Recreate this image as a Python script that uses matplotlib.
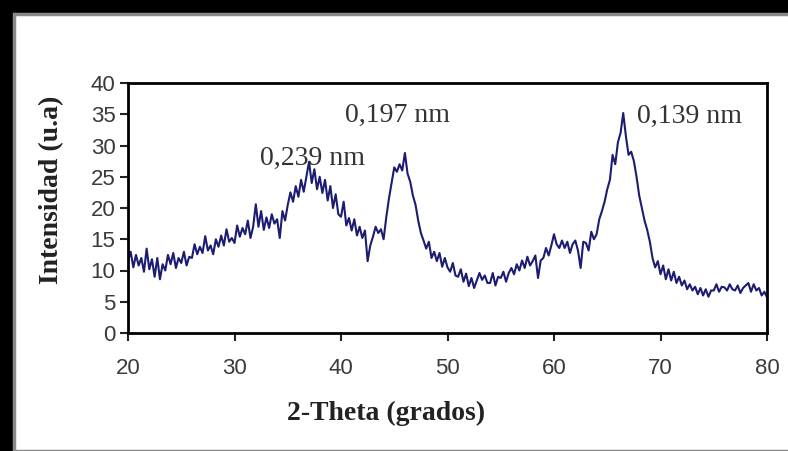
import matplotlib
matplotlib.use("Agg")
import matplotlib.pyplot as plt
from matplotlib.patches import Rectangle
import numpy as np

# 2-theta grid (0.25 deg) and intensities
theta_start, theta_step = 20.0, 0.25
intensidad = [
    11.5, 13.0, 10.5, 12.5, 10.8, 12.0, 9.8, 13.5,
    10.2, 11.8, 9.0, 12.0, 8.6, 11.0, 10.0, 12.5,
    11.0, 12.8, 10.4, 12.0, 11.2, 13.0, 10.8, 12.2,
    12.0, 14.2, 12.6, 13.8, 12.8, 15.5, 13.2, 14.0,
    12.6, 15.0, 13.8, 15.6, 14.0, 16.6, 14.6, 15.2,
    14.4, 17.2, 15.4, 16.8, 15.8, 18.0, 15.2, 17.0,
    20.6, 17.0, 19.5, 16.5, 18.5, 16.8, 19.0, 17.5,
    18.2, 15.2, 19.5, 18.0, 20.5, 22.5, 21.0, 23.5,
    21.8, 24.5, 22.6, 25.0, 27.4, 24.0, 26.2, 23.0,
    25.0, 22.4, 24.5, 21.2, 23.5, 20.0, 22.2, 19.0,
    18.6, 21.0, 17.2, 18.4, 16.4, 18.2, 15.6, 17.0,
    15.2, 16.4, 11.5, 14.0, 15.4, 17.0, 16.0, 16.6,
    15.0, 18.5, 21.5, 24.0, 26.5, 25.8, 27.0, 26.0,
    28.8, 25.5, 24.2, 22.0, 20.5, 18.0, 16.0, 14.8,
    13.5, 14.6, 12.0, 13.0, 11.5, 12.8, 10.6, 12.0,
    10.5, 9.8, 11.2, 9.2, 9.0, 10.2, 8.2, 9.5,
    7.5, 8.8, 7.2, 8.4, 9.6, 8.5, 9.2, 8.0,
    8.0, 9.6, 7.6, 9.0, 8.8, 9.8, 8.2, 9.6,
    10.4, 9.4, 11.0, 10.0, 11.6, 10.4, 12.2, 10.8,
    11.5, 12.4, 8.8, 11.6, 12.0, 13.6, 12.4, 14.0,
    15.8, 14.2, 13.6, 14.8, 13.6, 14.6, 12.8, 14.2,
    14.8, 13.2, 10.4, 14.6, 14.4, 13.2, 16.2, 15.0,
    15.8, 18.2, 19.5, 21.0, 23.0, 24.5, 28.5, 27.0,
    30.5, 32.0, 35.2, 31.5, 28.5, 29.0, 27.5, 25.0,
    22.0, 20.0, 18.0, 16.5, 14.6, 12.0, 10.5, 11.5,
    9.4, 10.8, 8.6, 10.2, 8.4, 9.8, 8.0, 9.0,
    7.6, 8.4, 7.0, 7.8, 6.8, 7.4, 6.2, 7.2,
    6.0, 7.0, 5.8, 6.8, 6.8, 7.8, 6.6, 7.4,
    7.3, 6.8, 7.8, 7.0, 6.8, 7.6, 6.4, 7.2,
    7.6, 8.0, 6.6, 7.8, 6.8, 7.2, 6.0, 6.6,
    5.7,
]
theta = theta_start + theta_step * np.arange(len(intensidad))

picos_txt = ["0,239 nm", "0,197 nm", "0,139 nm"]
picos_x = [37.3, 45.35, 72.7]
picos_y = [26.9, 33.8, 33.6]

xticks = [20, 30, 40, 50, 60, 70, 80]
yticks = [0, 5, 10, 15, 20, 25, 30, 35, 40]

fig = plt.figure(figsize=(7.88, 4.51), dpi=100)
fig.patch.set_facecolor("black")
# white panel with gray border, behind the axes
panel = Rectangle((14 / 788, 0), 1, 1 - 14 / 451, transform=fig.transFigure,
                  facecolor="white", edgecolor="#8a8a8a", linewidth=2.5, zorder=-5)
fig.add_artist(panel)

ax = fig.add_axes([128 / 788, 1 - 333 / 451, (767 - 128) / 788, (333 - 83) / 451])
ax.set_zorder(2)
ax.patch.set_alpha(0)
ax.plot(theta, intensidad, color="#1c1c72", linewidth=1.5)

ax.set_xlim(20, 80)
ax.set_ylim(0, 40)
ax.set_xticks(xticks)
ax.set_yticks(yticks)
for s in ax.spines.values():
    s.set_linewidth(2)
    s.set_color("black")
ax.tick_params(direction="out", length=6, width=1.5, labelsize=16, colors="#222222")
ax.tick_params(axis="x", pad=12)
ax.tick_params(axis="y", pad=3)
for lab in ax.get_xticklabels() + ax.get_yticklabels():
    lab.set_family("Liberation Sans")
    lab.set_color("#3a3a3a")

ax.set_xlabel("2-Theta (grados)", family="Liberation Serif", fontweight="bold",
              fontsize=20, color="#222222")
ax.set_ylabel("Intensidad (u.a)", family="Liberation Serif", fontweight="bold",
              fontsize=20, color="#222222")
ax.xaxis.set_label_coords(0.404, -0.32)
ax.yaxis.set_label_coords(-0.119, 0.572)
ax.xaxis.label.set_va("center")
ax.yaxis.label.set_va("center")

for t, x, y in zip(picos_txt, picos_x, picos_y):
    ax.text(x, y, t, family="Liberation Serif", fontsize=20, color="#333333",
            ha="center", va="baseline")

fig.savefig("out.png", dpi=100, facecolor=fig.get_facecolor())
